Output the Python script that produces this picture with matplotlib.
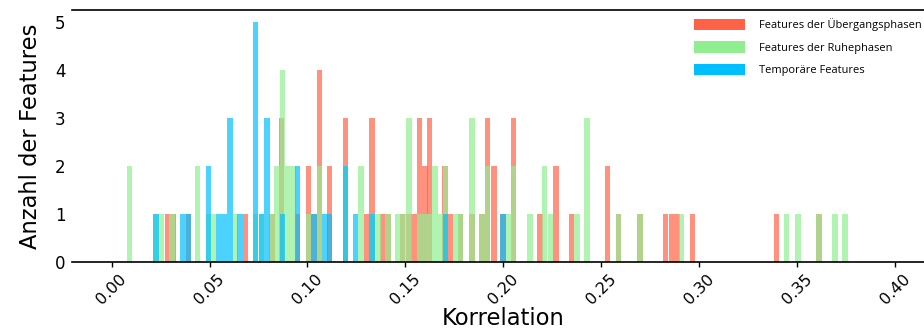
import matplotlib
matplotlib.use("Agg")
import matplotlib.pyplot as plt
from matplotlib.patches import Patch

# Bin centres (correlation) and feature counts per group
trans_x = [0.0286, 0.0313, 0.0391, 0.0685, 0.0823, 0.0869, 0.0951, 0.1007,
           0.1033, 0.1060, 0.1114, 0.1196, 0.1303, 0.1329, 0.1385, 0.1411,
           0.1487, 0.1518, 0.1544, 0.1571, 0.1600, 0.1625, 0.1702, 0.1732,
           0.1783, 0.1840, 0.1891, 0.1921, 0.1952, 0.1998, 0.2054, 0.2187,
           0.2269, 0.2350, 0.2534, 0.2590, 0.2698, 0.2830, 0.2859, 0.2887,
           0.2968, 0.3397, 0.3612]
trans_n = [1, 1, 1, 1, 1, 3, 1, 2,
           1, 4, 2, 3, 1, 3, 1, 1,
           1, 1, 1, 3, 2, 3, 2, 1,
           1, 1, 1, 3, 2, 1, 3, 1,
           2, 1, 2, 1, 1, 1, 1, 1,
           1, 1, 1]

rest_x = [0.0093, 0.0226, 0.0256, 0.0309, 0.0440, 0.0496, 0.0522, 0.0634,
          0.0736, 0.0767, 0.0818, 0.0845, 0.0872, 0.0899, 0.0926, 0.1007,
          0.1060, 0.1196, 0.1273, 0.1329, 0.1360, 0.1411, 0.1462, 0.1490,
          0.1518, 0.1571, 0.1600, 0.1625, 0.1651, 0.1678, 0.1705, 0.1758,
          0.1783, 0.1840, 0.1891, 0.1921, 0.2029, 0.2054, 0.2136, 0.2212,
          0.2243, 0.2376, 0.2427, 0.2590, 0.2698, 0.2912, 0.3448, 0.3505,
          0.3612, 0.3694, 0.3745]
rest_n = [2, 1, 1, 1, 2, 1, 1, 1,
          1, 1, 1, 2, 4, 2, 2, 1,
          2, 2, 2, 1, 1, 1, 1, 1,
          3, 1, 1, 1, 2, 1, 2, 1,
          1, 3, 1, 2, 1, 2, 1, 2,
          1, 1, 3, 1, 1, 1, 1, 1,
          1, 1, 1]

temp_x = [0.0226, 0.0364, 0.0391, 0.0496, 0.0549, 0.0577, 0.0605, 0.0655,
          0.0736, 0.0767, 0.0793, 0.0872, 0.0951, 0.1033, 0.1089, 0.1114,
          0.1196, 0.1247, 0.1329, 0.1705, 0.1998]
temp_n = [1, 1, 1, 2, 1, 1, 3, 1,
          5, 1, 3, 1, 2, 1, 1, 1,
          2, 1, 1, 1, 1]

labels = ["Features der Übergangsphasen", "Features der Ruhephasen",
          "Temporäre Features"]
colors = ["tomato", "lightgreen", "deepskyblue"]
x_ticks = [0.00, 0.05, 0.10, 0.15, 0.20, 0.25, 0.30, 0.35, 0.40]

bin_width = 0.0027

fig = plt.figure(figsize=(9.24, 3.32), dpi=100)
ax = fig.add_axes([0.0784, 0.2108, 0.9325, 0.759])

for xs, ns, c in zip([trans_x, rest_x, temp_x], [trans_n, rest_n, temp_n], colors):
    ax.bar(xs, ns, width=bin_width, color=c, alpha=0.7, linewidth=0)

ax.set_xlim(-0.02, 0.42)
ax.set_ylim(0, 5.25)
ax.set_xticks(x_ticks)
ax.set_xticklabels([f"{t:.2f}" for t in x_ticks], rotation=45, ha="center",
                   fontsize=11.5)
ax.set_yticks(range(6))
ax.tick_params(axis="y", length=0, labelsize=12, pad=5)
ax.tick_params(axis="x", length=3.5, width=1, pad=3)

for side in ("left", "right"):
    ax.spines[side].set_visible(False)
ax.spines["top"].set_linewidth(1.2)
ax.spines["bottom"].set_linewidth(1.2)

ax.set_xlabel("Korrelation", fontsize=16.3, labelpad=0)
ax.set_ylabel("Anzahl der Features", fontsize=16.3, labelpad=9)

handles = [Patch(facecolor=c, edgecolor="none") for c in colors]
ax.legend(handles, labels, loc="upper right",
          bbox_to_anchor=(922 / 924, 1 - 18 / 332),
          bbox_transform=fig.transFigure, frameon=False,
          prop={"family": "Open Sans", "size": 7.95},
          handlelength=4.62, handleheight=1.18, labelspacing=0.95,
          handletextpad=1.27, borderaxespad=0, borderpad=0)

fig.savefig("out.png", dpi=100)
